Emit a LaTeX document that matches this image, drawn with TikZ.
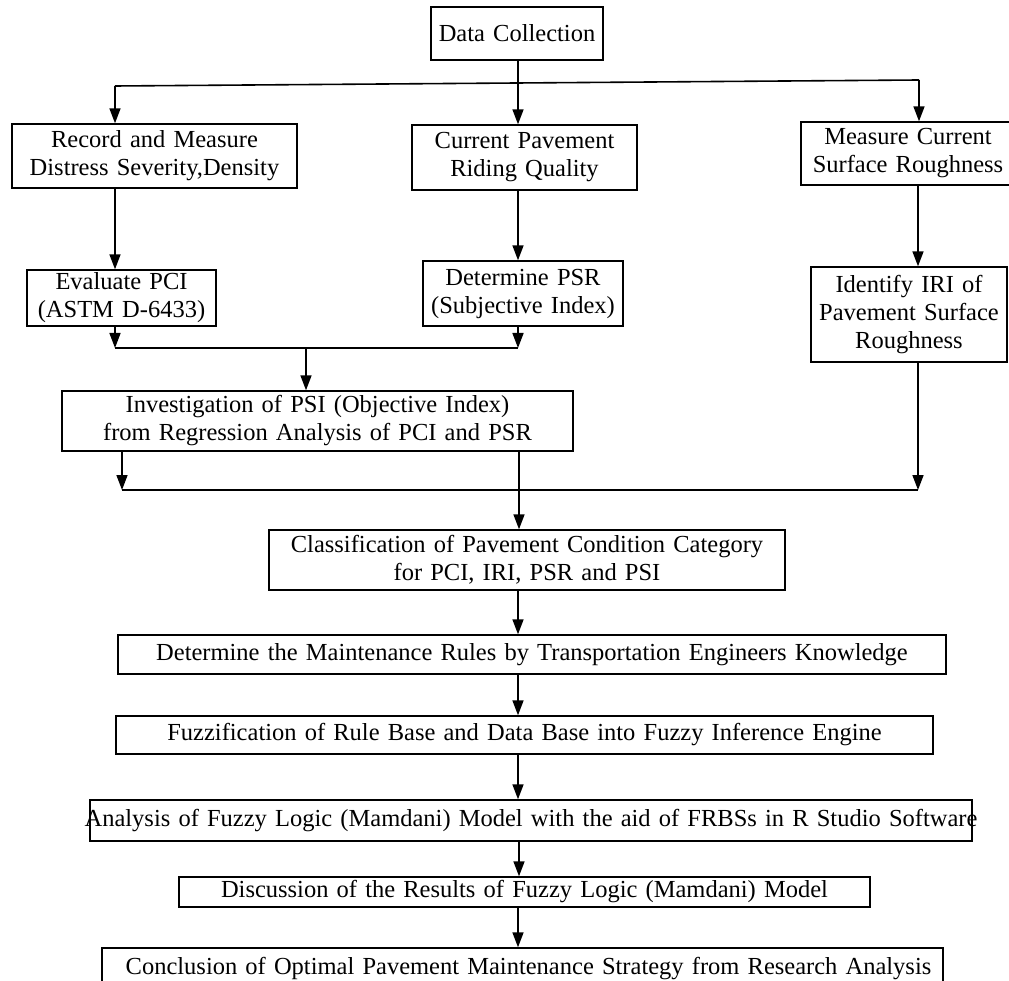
\documentclass[tikz,border=0pt]{standalone}
\usepackage{fontspec}
\setmainfont[WordSpace=0.8]{Liberation Serif}
\usetikzlibrary{arrows.meta}
\begin{document}
\begin{tikzpicture}[x=1pt,y=-1pt,
  box/.style={draw, line width=1.4pt, inner sep=0pt, align=center,
    font=\fontsize{24.5}{28}\selectfont},
  conn/.style={line width=1.6pt},
  arr/.style={conn, -{Triangle[width=11pt,length=15pt]}}]
\useasboundingbox (0,0) rectangle (1009,981);
% boxes
\node[box, minimum width=172, text width=172, minimum height=53] (dc) at (517,33.5) {Data Collection};
\node[box, minimum width=285, text width=285, minimum height=64] (rec) at (154.5,156) {Record and Measure\\Distress Severity,Density};
\node[box, minimum width=225, text width=225, minimum height=65] (cur) at (524.5,157.5) {Current Pavement\\Riding Quality};
\node[box, minimum width=214, text width=214, minimum height=63] (meas) at (908,153.5) {Measure Current\\Surface Roughness};
\node[box, minimum width=189, text width=189, minimum height=56] (eval) at (121.5,298) {Evaluate PCI\\(ASTM D-6433)};
\node[box, minimum width=200, text width=200, minimum height=65] (det) at (523,293.5) {Determine PSR\\(Subjective Index)};
\node[box, minimum width=196, text width=196, minimum height=95] (idf) at (909,314.5) {Identify IRI of\\Pavement Surface\\Roughness};
\node[box, minimum width=511, text width=511, minimum height=60] (inv) at (317.5,421) {Investigation of PSI (Objective Index)\\from Regression Analysis of PCI and PSR};
\node[box, minimum width=516, text width=516, minimum height=60] (cls) at (527,560) {Classification of Pavement Condition Category\\for PCI, IRI, PSR and PSI};
\node[box, minimum width=828, text width=828, minimum height=39] (rules) at (532,654.5) {Determine the Maintenance Rules by Transportation Engineers Knowledge};
\node[box, minimum width=817, text width=817, minimum height=38] (fuzz) at (524.5,735) {Fuzzification of Rule Base and Data Base into Fuzzy Inference Engine};
\node[box, minimum width=882, text width=882, minimum height=41] (ana) at (531,820.5) {\makebox[882pt]{Analysis of Fuzzy Logic (Mamdani) Model with the aid of FRBSs in R Studio Software}};
\node[box, minimum width=691, text width=691, minimum height=30] (disc) at (524.5,892) {Discussion of the Results of Fuzzy Logic (Mamdani) Model};
\node[box, minimum width=841, text width=841, minimum height=42] (conc) at (522.5,969) {\makebox[841pt]{\hspace{12pt}Conclusion of Optimal Pavement Maintenance Strategy from Research Analysis}};
% branch from data collection
\coordinate (bl) at (115,86);
\coordinate (br) at (919,80);
\draw[conn] (bl) -- (br);
\draw[arr] (dc.south -| 518,0) -- (cur.north -| 518,0);
\draw[arr] (bl) -- (bl |- rec.north);
\draw[arr] (br) -- (br |- meas.north);
% second level
\draw[arr] (rec.south -| 115,0) -- (eval.north -| 115,0);
\draw[arr] (cur.south -| 518,0) -- (det.north -| 518,0);
\draw[arr] (meas.south -| 918,0) -- (idf.north -| 918,0);
% merge PCI / PSR
\coordinate (m1) at (115,348);
\coordinate (m2) at (518,348);
\coordinate (m3) at (306,348);
\draw[arr] (eval.south -| m1) -- (m1);
\draw[arr] (det.south -| m2) -- (m2);
\draw[conn] (m1) -- (m2);
\draw[arr] (m3) -- (m3 |- inv.north);
% merge PSI / IRI
\coordinate (j1) at (122,490);
\coordinate (j2) at (918,490);
\draw[arr] (inv.south -| j1) -- (j1);
\draw[arr] (idf.south -| j2) -- (j2);
\draw[conn] (j1) -- (j2);
\draw[arr] (inv.south -| 519,0) -- (cls.north -| 519,0);
% chain
\draw[arr] (cls.south -| 518,0) -- (rules.north -| 518,0);
\draw[arr] (rules.south -| 518,0) -- (fuzz.north -| 518,0);
\draw[arr] (fuzz.south -| 518,0) -- (ana.north -| 518,0);
\draw[arr] (ana.south -| 519,0) -- (disc.north -| 519,0);
\draw[arr] (disc.south -| 518,0) -- (conc.north -| 518,0);
\end{tikzpicture}
\end{document}
